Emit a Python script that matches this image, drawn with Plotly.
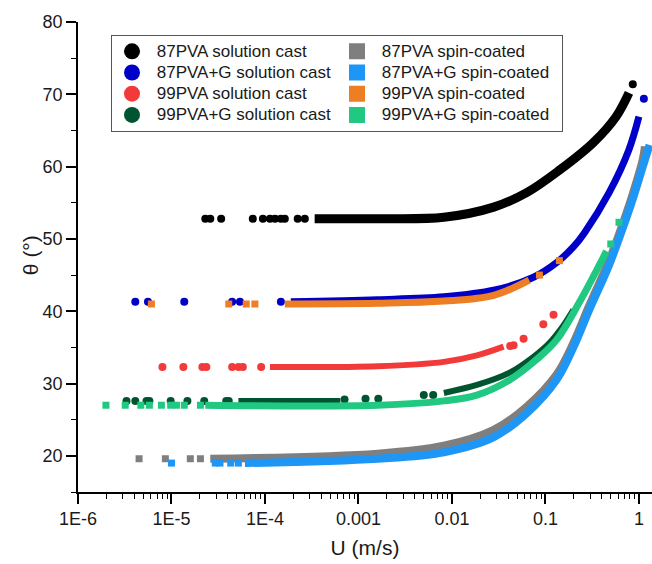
import plotly.graph_objects as go

# ---------------- tick labels ----------------
x_tickvals = [1e-6, 1e-5, 1e-4, 1e-3, 1e-2, 1e-1, 1]
x_ticktext = ["1E-6", "1E-5", "1E-4", "0.001", "0.01", "0.1", "1"]
y_tickvals = [20, 30, 40, 50, 60, 70, 80]

# ---------------- data (U in m/s, theta in degrees) ----------------
# 87PVA solution cast
pva87_sc_pts_u = [2.3e-5, 2.6e-5, 3.4e-5, 7.4e-5, 9.5e-5, 1.13e-4, 1.28e-4, 1.48e-4, 1.63e-4, 2.24e-4, 2.67e-4, 0.86]
pva87_sc_pts_t = [52.8, 52.8, 52.8, 52.8, 52.8, 52.8, 52.8, 52.8, 52.8, 52.8, 52.8, 71.4]
pva87_sc_cur_u = [3.4e-4, 1.6e-3, 8.2e-3, 0.028, 0.063, 0.141, 0.324, 0.569, 0.783]
pva87_sc_cur_t = [52.8, 52.8, 53.0, 54.4, 56.4, 59.5, 63.3, 66.9, 70.2]

# 87PVA+G solution cast
pva87g_sc_pts_u = [4.1e-6, 5.6e-6, 1.37e-5, 4.45e-5, 5.4e-5, 1.48e-4, 1.13]
pva87g_sc_pts_t = [41.3, 41.3, 41.3, 41.3, 41.3, 41.3, 69.4]
pva87g_sc_cur_u = [1.89e-4, 1.6e-3, 8.2e-3, 0.028, 0.0745, 0.131, 0.199, 0.26, 0.48, 0.78, 1.0]
pva87g_sc_cur_t = [41.3, 41.6, 42.0, 42.9, 44.7, 46.7, 48.9, 50.8, 56.4, 62.3, 66.9]

# 99PVA solution cast
pva99_sc_pts_u = [8.0e-6, 1.34e-5, 2.14e-5, 2.36e-5, 4.45e-5, 5.2e-5, 5.8e-5, 9.1e-5, 0.042, 0.0457, 0.0584, 0.095, 0.122]
pva99_sc_pts_t = [32.3, 32.3, 32.3, 32.3, 32.3, 32.3, 32.3, 32.3, 35.2, 35.3, 36.2, 38.2, 39.5]
pva99_sc_cur_u = [1.13e-4, 1.6e-3, 8.2e-3, 0.0185, 0.0357]
pva99_sc_cur_t = [32.3, 32.4, 33.0, 33.9, 35.1]

# 99PVA+G solution cast
pva99g_sc_pts_u = [3.3e-6, 4.1e-6, 5.4e-6, 5.8e-6, 9.8e-6, 1.48e-5, 2.24e-5, 3.85e-5, 4.1e-5, 7.1e-4, 1.19e-3, 1.63e-3, 5.0e-3, 6.3e-3]
pva99g_sc_pts_t = [27.6, 27.6, 27.6, 27.6, 27.6, 27.6, 27.6, 27.6, 27.6, 27.8, 27.9, 27.9, 28.4, 28.4]
pva99g_sc_cur_u = [5.2e-5, 6.4e-4, None, 8.2e-3, 0.0185, 0.0414, 0.0745, 0.110, 0.155, 0.199]
pva99g_sc_cur_t = [27.6, 27.6, None, 28.7, 29.8, 31.5, 33.7, 35.6, 38.0, 40.2]

# 87PVA spin-coated
pva87_spin_pts_u = [4.5e-6, 8.6e-6, 1.59e-5, 2.04e-5]
pva87_spin_pts_t = [19.6, 19.6, 19.6, 19.6]
pva87_spin_cur_u = [2.6e-5, 1.6e-3, 8.2e-3, 0.028, 0.063, 0.131, 0.199, 0.29, 0.48, 0.676, 0.863, 1.10, 1.16]
pva87_spin_cur_t = [19.6, 20.3, 21.4, 23.6, 26.8, 31.2, 35.6, 40.6, 47.0, 52.2, 56.3, 61.0, 62.8]

# 87PVA+G spin-coated
pva87g_spin_pts_u = [1.0e-5, 2.94e-5, 3.3e-5, 4.3e-5, 5.2e-5]
pva87g_spin_pts_t = [19.0, 19.0, 19.0, 19.0, 19.0]
pva87g_spin_cur_u = [6.1e-5, 1.6e-3, 8.2e-3, 0.028, 0.063, 0.131, 0.199, 0.29, 0.48, 0.676, 0.863, 1.10, 1.3]
pva87g_spin_cur_t = [19.0, 19.6, 20.5, 22.6, 25.9, 30.5, 35.0, 40.0, 46.4, 51.6, 55.6, 60.0, 63.0]

# 99PVA spin-coated
pva99_spin_pts_u = [6.1e-6, 4.1e-5, 6.3e-5, 7.8e-5, 0.0863, 0.141]
pva99_spin_pts_t = [41.0, 41.0, 41.0, 41.0, 45.0, 47.0]
pva99_spin_cur_u = [1.63e-4, 1.6e-3, 8.2e-3, 0.028, 0.067]
pva99_spin_cur_t = [41.0, 41.1, 41.4, 42.2, 44.3]

# 99PVA+G spin-coated
pva99g_spin_pts_u = [1.99e-6, 3.2e-6, 4.7e-6, 5.8e-6, 7.8e-6, 9.8e-6, 1.13e-5, 1.37e-5, 2.04e-5, 0.50, 0.612]
pva99g_spin_pts_t = [27.0, 27.0, 27.0, 27.0, 27.0, 27.0, 27.0, 27.0, 27.0, 49.3, 52.3]
pva99g_spin_cur_u = [2.3e-5, 1.6e-3, 8.2e-3, 0.0185, 0.0414, 0.080, 0.131, 0.23, 0.45]
pva99g_spin_cur_t = [27.0, 27.0, 27.6, 28.4, 30.5, 33.3, 36.0, 41.2, 48.3]

# ---------------- styling ----------------
FONT = "Liberation Sans, Arial, sans-serif"
series = [
    # name, pts_u, pts_t, cur_u, cur_t, color, symbol, marker size, line width, legend rank
    ("87PVA solution cast", pva87_sc_pts_u, pva87_sc_pts_t, pva87_sc_cur_u, pva87_sc_cur_t, "#000000", "circle", 8, 9, 1),
    ("87PVA+G solution cast", pva87g_sc_pts_u, pva87g_sc_pts_t, pva87g_sc_cur_u, pva87g_sc_cur_t, "#0000C8", "circle", 8, 7, 3),
    ("99PVA solution cast", pva99_sc_pts_u, pva99_sc_pts_t, pva99_sc_cur_u, pva99_sc_cur_t, "#F23A3A", "circle", 8, 6, 5),
    ("99PVA+G solution cast", pva99g_sc_pts_u, pva99g_sc_pts_t, pva99g_sc_cur_u, pva99g_sc_cur_t, "#005530", "circle", 8, 6, 7),
    ("87PVA spin-coated", pva87_spin_pts_u, pva87_spin_pts_t, pva87_spin_cur_u, pva87_spin_cur_t, "#7F7F7F", "square", 7, 8, 2),
    ("87PVA+G spin-coated", pva87g_spin_pts_u, pva87g_spin_pts_t, pva87g_spin_cur_u, pva87g_spin_cur_t, "#1E96F5", "square", 7, 8, 4),
    ("99PVA spin-coated", pva99_spin_pts_u, pva99_spin_pts_t, pva99_spin_cur_u, pva99_spin_cur_t, "#EE7E24", "square", 7, 7, 6),
    ("99PVA+G spin-coated", pva99g_spin_pts_u, pva99g_spin_pts_t, pva99g_spin_cur_u, pva99g_spin_cur_t, "#20C882", "square", 7, 7, 8),
]

fig = go.Figure()
for name, pu, pt, cu, ct, color, sym, msize, lw, rank in series:
    fig.add_trace(go.Scatter(x=cu, y=ct, mode="lines", line=dict(color=color, width=lw, shape="spline"),
                             showlegend=False, hoverinfo="skip"))
    fig.add_trace(go.Scatter(x=pu, y=pt, mode="markers", marker=dict(color=color, symbol=sym, size=msize, line=dict(width=0)),
                             showlegend=False))
    # legend entry (enlarged symbol)
    fig.add_trace(go.Scatter(x=[None], y=[None], mode="markers",
                             name="<span style='font-size:17px'>\u00a0" + name + "</span>", legendrank=rank,
                             marker=dict(color=color, symbol=sym, size=18, line=dict(width=0))))

fig.update_layout(
    width=652, height=564,
    margin=dict(l=78, r=0, t=22, b=72),
    paper_bgcolor="white", plot_bgcolor="white",
    font=dict(family=FONT, size=17, color="#1a1a1a"),
    showlegend=True,
    legend=dict(
        orientation="h", x=0.0575, y=0.973, xanchor="left", yanchor="top",
        entrywidth=180, bgcolor="white", bordercolor="#555555", borderwidth=1,
        font=dict(family=FONT, size=14, color="#1a1a1a"), tracegroupgap=0,
        traceorder="normal",
    ),
    xaxis=dict(
        type="log", range=[-6, 0.14],
        showline=True, linecolor="black", linewidth=1.5, mirror=False,
        ticks="outside", ticklen=10, tickwidth=1.5, tickcolor="black",
        tickvals=x_tickvals, ticktext=x_ticktext,
        tickfont=dict(family=FONT, size=18, color="#1a1a1a"),
        minor=dict(ticks="outside", ticklen=5, tickwidth=1.2, tickcolor="black", dtick="D1", showgrid=False),
        showgrid=False, zeroline=False,
        title=dict(text="U (m/s)", font=dict(family=FONT, size=21, color="#1a1a1a"), standoff=12),
    ),
    yaxis=dict(
        range=[15, 80],
        showline=True, linecolor="black", linewidth=1.5,
        ticks="outside", ticklen=10, tickwidth=1.5, tickcolor="black",
        tickvals=y_tickvals,
        tickfont=dict(family=FONT, size=18, color="#1a1a1a"),
        minor=dict(ticks="outside", ticklen=5, tickwidth=1.2, tickcolor="black", dtick=5, showgrid=False),
        showgrid=False, zeroline=False,
    ),
    annotations=[dict(
        text="θ (°)", xref="paper", yref="paper", x=-0.0836, y=0.504,
        xanchor="center", yanchor="middle", textangle=-90, showarrow=False,
        font=dict(family=FONT, size=21, color="#1a1a1a"),
    )],
)

fig.write_html("out.html")
